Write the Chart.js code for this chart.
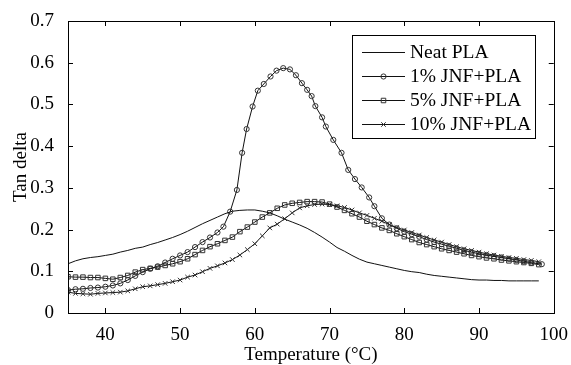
<!DOCTYPE html>
<html>
<head>
<meta charset="utf-8">
<script src="https://cdn.jsdelivr.net/npm/chart.js@4/dist/chart.umd.min.js"></script>
<style>
  html,body{margin:0;padding:0;background:#fff;}
  #wrap{width:571px;height:365px;}
</style>
</head>
<body>
<div id="wrap"><canvas id="c" width="571" height="365"></canvas></div>
<script>
// temperatures (°C) and tan delta values
const neatT = [35,36,37,38,39,40,41,42,43,44,45,46,47,48,49,50,51,52,53,54,55,56,57,58,59,60,61,62,63,64,65,66,67,68,69,70,71,72,73,74,75,76,77,78,79,80,81,82,83,84,85,86,87,88,89,90,91,92,93,94,95,96,97,98];
const neatY = [0.118,0.125,0.130,0.133,0.135,0.138,0.141,0.146,0.150,0.155,0.158,0.164,0.169,0.175,0.181,0.188,0.196,0.205,0.214,0.222,0.230,0.238,0.244,0.246,0.247,0.247,0.244,0.240,0.233,0.225,0.218,0.211,0.203,0.193,0.182,0.170,0.157,0.148,0.138,0.129,0.122,0.118,0.114,0.110,0.106,0.102,0.099,0.097,0.093,0.090,0.088,0.086,0.084,0.082,0.080,0.079,0.079,0.078,0.078,0.077,0.077,0.077,0.077,0.077];

const jnf1T = [35,36,37,38,39,40,41,42,43,44,45,46,47,48,49,50,51,52,53,54,55,55.8,56.7,57.6,58.3,58.9,59.7,60.4,61.2,62.1,62.9,63.8,64.7,65.5,66.3,67.0,67.6,68.1,69.0,69.5,70.5,71.6,72.5,73.4,74.3,75.3,76.0,77.0,78,79,80,81,82,83,84,85,86,87,88,89,90,91,92,93,94,95,96,97,98.4];
const jnf1Y = [0.055,0.057,0.058,0.060,0.061,0.063,0.066,0.071,0.079,0.089,0.098,0.106,0.112,0.121,0.130,0.138,0.146,0.158,0.170,0.181,0.193,0.207,0.243,0.295,0.384,0.441,0.495,0.533,0.549,0.567,0.581,0.587,0.584,0.570,0.551,0.535,0.520,0.496,0.469,0.447,0.415,0.384,0.343,0.321,0.301,0.277,0.256,0.227,0.212,0.203,0.195,0.189,0.183,0.176,0.170,0.165,0.160,0.155,0.150,0.146,0.142,0.139,0.136,0.133,0.130,0.127,0.124,0.121,0.117];

const jnf5T = neatT;
const jnf5Y = [0.087,0.086,0.086,0.085,0.085,0.083,0.081,0.085,0.090,0.098,0.104,0.107,0.110,0.114,0.118,0.123,0.130,0.140,0.150,0.159,0.166,0.174,0.182,0.195,0.206,0.218,0.230,0.240,0.251,0.259,0.263,0.265,0.267,0.267,0.266,0.261,0.254,0.246,0.238,0.230,0.220,0.212,0.204,0.198,0.190,0.183,0.176,0.169,0.164,0.159,0.154,0.150,0.146,0.142,0.138,0.135,0.132,0.130,0.127,0.125,0.123,0.121,0.119,0.116];

const jnf10T = neatT;
const jnf10Y = [0.050,0.047,0.046,0.045,0.047,0.048,0.049,0.050,0.053,0.058,0.063,0.065,0.068,0.071,0.075,0.079,0.086,0.091,0.099,0.107,0.113,0.120,0.128,0.139,0.152,0.166,0.185,0.204,0.213,0.226,0.240,0.252,0.257,0.260,0.261,0.260,0.257,0.253,0.247,0.240,0.234,0.227,0.220,0.212,0.205,0.199,0.193,0.187,0.181,0.175,0.170,0.164,0.159,0.154,0.150,0.146,0.142,0.139,0.136,0.133,0.131,0.128,0.126,0.123];

const xTicks = [40,50,60,70,80,90,100];
const yTicks = [0,0.1,0.2,0.3,0.4,0.5,0.6,0.7];
const labels = ['Neat PLA','1% JNF+PLA','5% JNF+PLA','10% JNF+PLA'];

const FONT = 'Liberation Serif, Times New Roman, serif';
const INK = '#111';
const pts = (T, Y) => T.map((t,i)=>({x:t, y:Y[i]}));

const series = [
  {label:labels[0], data:pts(neatT,neatY),  pointStyle:false,   pointRadius:0},
  {label:labels[1], data:pts(jnf1T,jnf1Y),  pointStyle:'circle', pointRadius:2.6},
  {label:labels[2], data:pts(jnf5T,jnf5Y),  pointStyle:'rect',   pointRadius:3.2},
  {label:labels[3], data:pts(jnf10T,jnf10Y),pointStyle:'crossRot',pointRadius:3.2}
].map(s => Object.assign({
  borderColor:INK, borderWidth:1, pointBorderColor:'#333', pointBorderWidth:1,
  pointBackgroundColor:'rgba(255,255,255,0)', tension:0, fill:false
}, s));

// box frame, inward ticks and in-plot legend
const frame = {
  id:'frame',
  afterDraw(chart){
    const {ctx, chartArea:a, scales:{x, y}} = chart;
    ctx.save();
    ctx.strokeStyle = '#000'; ctx.lineWidth = 1;
    ctx.strokeRect(Math.round(a.left)+0.5, Math.round(a.top)+0.5, Math.round(a.right-a.left), Math.round(a.bottom-a.top));
    ctx.beginPath();
    xTicks.slice(0,-1).forEach(v => {
      const px = Math.round(x.getPixelForValue(v))+0.5;
      ctx.moveTo(px, a.bottom); ctx.lineTo(px, a.bottom-5);
      ctx.moveTo(px, a.top); ctx.lineTo(px, a.top+5);
    });
    yTicks.slice(1,-1).forEach(v => {
      const py = Math.round(y.getPixelForValue(v))+0.5;
      ctx.moveTo(a.left, py); ctx.lineTo(a.left+5, py);
      ctx.moveTo(a.right, py); ctx.lineTo(a.right-5, py);
    });
    ctx.stroke();

    // legend
    const bx = 352.5, by = 35.5, bw = 183, bh = 103;
    ctx.fillStyle = '#fff'; ctx.fillRect(bx, by, bw, bh);
    ctx.strokeRect(bx, by, bw, bh);
    const rows = [52, 76, 100, 124];
    chart.data.datasets.forEach((ds, i) => {
      const ry = rows[i] + 0.5;
      ctx.strokeStyle = INK; ctx.beginPath(); ctx.moveTo(362, ry); ctx.lineTo(405, ry); ctx.stroke();
      if (ds.pointStyle) {
        ctx.strokeStyle = '#333'; ctx.fillStyle = 'rgba(255,255,255,0)';
        Chart.helpers.drawPoint(ctx, {pointStyle:ds.pointStyle, radius:ds.pointRadius, borderWidth:1}, 383.5, ry);
      }
      ctx.font = '19.5px ' + FONT; ctx.textBaseline = 'middle'; ctx.fillStyle = '#000';
      ctx.fillText(ds.label, 410, rows[i] + 1);
    });
    ctx.restore();
  }
};

new Chart(document.getElementById('c'), {
  type:'line',
  data:{datasets:series},
  options:{
    responsive:false, animation:false, devicePixelRatio:1,
    layout:{padding:{top:21, right:17, left:0, bottom:0}},
    plugins:{legend:{display:false}, tooltip:{enabled:false}},
    scales:{
      x:{
        type:'linear', min:35, max:100,
        afterBuildTicks:s => { s.ticks = xTicks.map(v=>({value:v})); },
        afterFit:s => { s.height = 52; },
        grid:{display:false}, border:{display:false},
        ticks:{font:{family:FONT, size:19}, color:'#000', padding:3, maxRotation:0},
        title:{display:true, text:'Temperature (\u00B0C)', font:{family:FONT, size:19, lineHeight:1}, color:'#000', padding:{top:0, bottom:0}}
      },
      y:{
        min:0, max:0.7,
        afterBuildTicks:s => { s.ticks = yTicks.map(v=>({value:v})); },
        afterFit:s => { s.width = 68; },
        grid:{display:false}, border:{display:false},
        ticks:{font:{family:FONT, size:19}, color:'#000', padding:6, callback:v => String(Math.round(v*10)/10)},
        title:{display:true, text:'Tan delta', font:{family:FONT, size:19, lineHeight:1}, color:'#000', padding:{top:12, bottom:0}}
      }
    }
  },
  plugins:[frame]
});
</script>
</body>
</html>
